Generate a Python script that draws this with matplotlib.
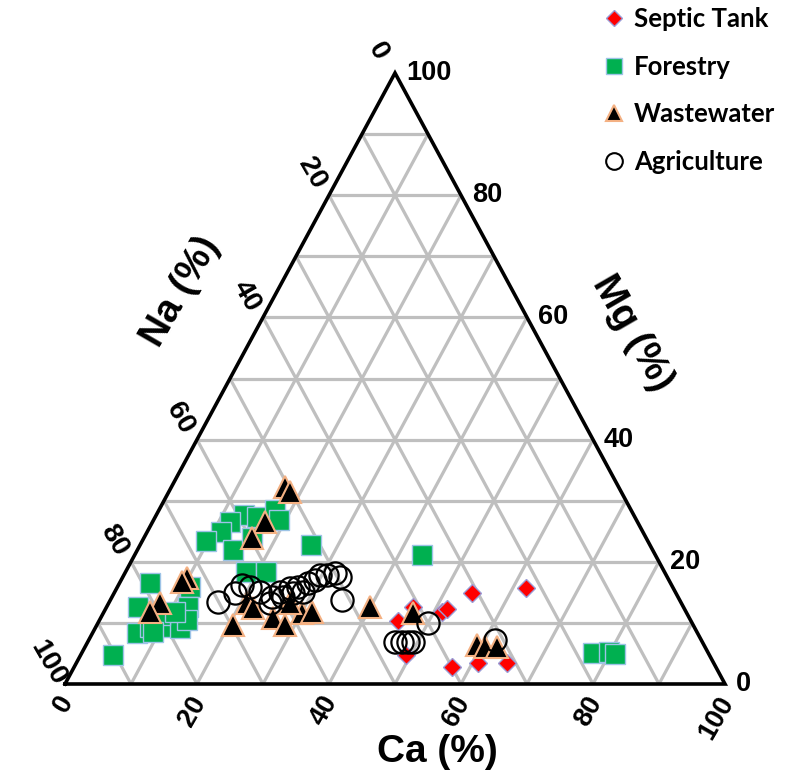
import matplotlib
matplotlib.use('Agg')
import matplotlib.pyplot as plt
from matplotlib.lines import Line2D
import numpy as np

# ---- data (percent): Ca, Mg ; Na = 100 - Ca - Mg ----
septic_ca = [54.2, 62.0, 46.4, 45.3, 51.2, 51.7, 49.3, 57.2, 60.9, 65.3]
septic_mg = [14.9, 15.7, 12.6, 10.3, 11.8, 12.3, 4.7, 2.8, 3.4, 3.4]

forest_ca = [4.6, 4.8, 11.0, 12.3, 6.8, 8.2, 10.2, 12.8, 13.2, 4.9, 8.7, 9.1, 10.8,
             13.3, 15.4, 17.6, 19.0, 11.7, 11.2, 9.7, 14.5, 16.4, 25.9, 18.3, 21.3, 43.5,
             77.5, 79.8, 80.9]
forest_mg = [16.5, 12.6, 15.9, 12.6, 8.3, 9.3, 9.3, 9.2, 10.5, 4.7, 11.3, 8.5, 11.8,
             27.7, 27.3, 28.5, 26.8, 26.5, 24.9, 23.4, 21.9, 23.9, 22.7, 18.3, 18.3, 21.1,
             5.1, 5.2, 4.9]

waste_ca = [17.2, 18.4, 17.0, 16.4, 20.6, 20.9, 22.3, 26.1, 28.5, 30.1, 31.5, 39.9,
            46.9, 59.2, 60.6, 62.4, 9.8, 9.4, 7.7, 7.0, 27.4]
waste_mg = [32.2, 31.4, 26.5, 23.9, 9.7, 13.3, 12.4, 10.8, 9.7, 11.6, 11.8, 12.6,
            11.6, 6.4, 6.1, 6.1, 17.3, 16.7, 13.3, 11.8, 13.3]

agri_ca = [16.5, 18.3, 18.7, 20.1, 22.0, 24.3, 24.4, 25.0, 25.9, 26.2, 27.1, 27.3, 28.6,
           29.7, 30.8, 31.8, 32.9, 35.1, 46.6, 47.6, 48.5, 49.3, 50.0, 61.6, 28.5, 29.4]
agri_mg = [13.4, 14.9, 16.2, 15.9, 15.1, 14.2, 13.3, 15.1, 14.2, 15.7, 14.9, 15.9, 16.5,
           17.8, 17.8, 18.2, 17.5, 13.7, 6.9, 6.9, 6.9, 6.9, 10.0, 7.2, 15.1, 17.0]

ticks = [0, 20, 40, 60, 80, 100]
grid_levels = [10, 20, 30, 40, 50, 60, 70, 80, 90]
legend_labels = ['Septic Tank', 'Forestry', 'Wastewater', 'Agriculture']


def tern(ca, mg):
    ca = np.asarray(ca, dtype=float) / 100.0
    mg = np.asarray(mg, dtype=float) / 100.0
    return ca + mg / 2.0, mg


W, H = 798, 775
fig = plt.figure(figsize=(W / 100, H / 100), dpi=100)
ax = fig.add_axes([65 / W, (H - 684) / H, 660 / W, 611 / H])
ax.set_xlim(0, 1)
ax.set_ylim(0, 1)
ax.axis('off')

narrow = ['Liberation Sans Narrow', 'Liberation Sans', 'DejaVu Sans']
legfont = ['Lato', 'DejaVu Sans']

gcol = '#bfbfbf'
for v in grid_levels:
    for (c0, m0, c1, m1) in [(0, v, 100 - v, v), (v, 0, v, 100 - v), (100 - v, 0, 0, 100 - v)]:
        x, y = tern([c0, c1], [m0, m1])
        ax.plot(x, y, color=gcol, lw=2.3, zorder=1, solid_capstyle='butt')

bx, by = tern([0, 100, 0, 0], [0, 0, 100, 0])
ax.plot(bx, by, color='black', lw=2.6, zorder=2, clip_on=False, solid_joinstyle='miter')

x, y = tern(forest_ca, forest_mg)
ax.plot(x, y, 's', ms=14, mfc='#00b050', mec='#9dc3e6', mew=1.0, ls='none', zorder=3, clip_on=False)
x, y = tern(septic_ca, septic_mg)
ax.plot(x, y, 'D', ms=9.5, mfc='#ff0000', mec='#9b9bd6', mew=1.0, ls='none', zorder=4, clip_on=False)
x, y = tern(waste_ca, waste_mg)
ax.plot(x, y, '^', ms=16, mfc='black', mec='#f4b183', mew=1.5, ls='none', zorder=5, clip_on=False)
x, y = tern(agri_ca, agri_mg)
ax.plot(x, y, 'o', ms=16, mfc='none', mec='black', mew=1.6, ls='none', zorder=6, clip_on=False)

tfs = 19.5
for v in ticks:
    # Ca along bottom
    ax.annotate(str(v), xy=tern(v, 0), xytext=(2, -10), textcoords='offset points',
                ha='right', va='center', rotation=60, rotation_mode='anchor',
                fontsize=tfs, fontweight='bold', family=narrow)
    # Mg along right edge
    ax.annotate(str(v), xy=tern(100 - v, v), xytext=(8, 0), textcoords='offset points',
                ha='left', va='center', fontsize=tfs, fontweight='bold', family=narrow)
    # Na along left edge
    ax.annotate(str(v), xy=tern(0, 100 - v), xytext=(-12, 15.5), textcoords='offset points',
                ha='center', va='center', rotation=-60, rotation_mode='anchor',
                fontsize=tfs + 1, fontweight='bold', family=narrow)

afs = 28
fig.text(437 / W, 1 - 752 / H, 'Ca (%)', ha='center', va='center', fontsize=afs,
         fontweight='bold', family=narrow)
fig.text(181 / W, 1 - 292 / H, 'Na (%)', ha='center', va='center', rotation=60,
         rotation_mode='anchor', fontsize=afs, fontweight='bold', family=narrow)
fig.text(632 / W, 1 - 333 / H, 'Mg (%)', ha='center', va='center', rotation=-60,
         rotation_mode='anchor', fontsize=afs, fontweight='bold', family=narrow)

handles = [
    Line2D([], [], marker='D', ls='none', ms=8.5, mfc='#ff0000', mec='#9b9bd6', mew=1.0),
    Line2D([], [], marker='s', ls='none', ms=12, mfc='#00b050', mec='#9dc3e6', mew=1.0),
    Line2D([], [], marker='^', ls='none', ms=12, mfc='black', mec='#f4b183', mew=1.5),
    Line2D([], [], marker='o', ls='none', ms=12, mfc='none', mec='black', mew=1.5),
]
fig.legend(handles, legend_labels, loc='upper left', bbox_to_anchor=(602 / W, 1 - 7 / H),
           frameon=False, prop={'family': legfont, 'weight': 'bold', 'size': 18.5},
           handletextpad=0.3, labelspacing=0.92, handlelength=0.95,
           borderaxespad=0, borderpad=0)

fig.savefig('out.png', dpi=100)
